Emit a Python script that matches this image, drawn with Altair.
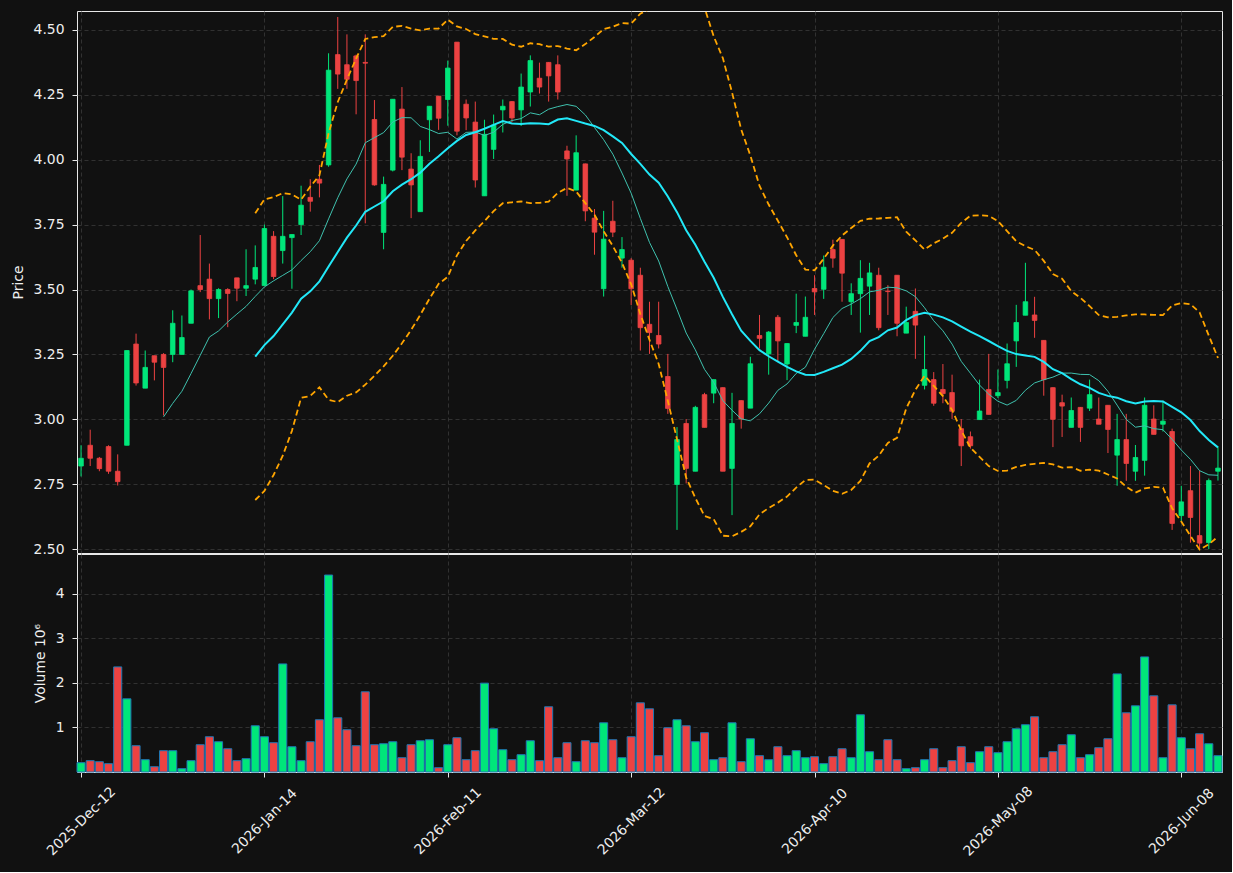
import json
import altair as alt
import pandas as pd
import numpy as np

# ---- data (index = trading-day number) ----
opens = [2.82, 2.90, 2.85, 2.895, 2.80, 2.90, 3.29, 3.12, 3.245, 3.25,
         3.25, 3.25, 3.37, 3.515, 3.54, 3.465, 3.50, 3.545, 3.505, 3.54,
         3.515, 3.705, 3.65, 3.70, 3.75, 3.855, 3.925, 3.98, 4.405, 4.366,
         4.40, 4.375, 4.155, 3.72, 3.96, 4.195, 3.964, 3.80, 4.154, 4.245,
         4.232, 4.453, 4.214, 4.145, 3.861, 4.04, 4.192, 4.224, 4.192, 4.261,
         4.314, 4.375, 4.366, 4.034, 3.883, 3.984, 3.775, 3.503, 3.763, 3.621,
         3.613, 3.555, 3.366, 3.323, 3.165, 2.749, 2.984, 2.80, 3.095, 3.101,
         3.122, 2.811, 3.072, 3.043, 3.323, 3.252, 3.393, 3.213, 3.362, 3.32,
         3.504, 3.501, 3.654, 3.693, 3.453, 3.484, 3.513, 3.555, 3.494, 3.555,
         3.332, 3.416, 3.131, 3.153, 3.115, 3.103, 2.964, 2.933, 2.999, 3.115,
         3.091, 3.15, 3.302, 3.401, 3.402, 3.304, 3.122, 3.064, 2.969, 3.046,
         3.043, 3.001, 3.054, 2.862, 2.922, 2.80, 2.842, 3.001, 2.981, 2.953,
         2.629, 2.725, 2.552, 2.525, 2.80]
highs = [2.90, 2.96, 2.855, 2.90, 2.865, 3.265, 3.33, 3.265, 3.245, 3.255,
         3.42, 3.40, 3.50, 3.71, 3.60, 3.505, 3.505, 3.545, 3.655, 3.67,
         3.75, 3.725, 3.86, 3.712, 3.90, 3.925, 3.98, 4.41, 4.55, 4.483,
         4.405, 4.483, 4.23, 3.935, 4.233, 4.28, 4.025, 4.075, 4.206, 4.245,
         4.382, 4.453, 4.232, 4.224, 4.154, 4.174, 4.232, 4.226, 4.332, 4.402,
         4.374, 4.376, 4.402, 4.054, 4.094, 3.985, 3.81, 3.803, 3.842, 3.702,
         3.621, 3.584, 3.453, 3.453, 3.252, 2.97, 3.001, 3.052, 3.102, 3.153,
         3.123, 3.102, 3.073, 3.241, 3.402, 3.34, 3.402, 3.292, 3.484, 3.473,
         3.555, 3.631, 3.692, 3.694, 3.524, 3.613, 3.603, 3.584, 3.517, 3.556,
         3.434, 3.504, 3.322, 3.182, 3.213, 3.172, 3.001, 2.953, 3.153, 3.252,
         3.192, 3.292, 3.441, 3.603, 3.472, 3.305, 3.123, 3.095, 3.084, 3.047,
         3.153, 3.084, 3.055, 3.021, 3.021, 2.901, 3.084, 3.054, 3.072, 2.964,
         2.744, 2.82, 2.803, 2.772, 2.895]
lows = [2.78, 2.82, 2.80, 2.79, 2.745, 2.90, 3.13, 3.12, 3.15, 3.015,
        3.22, 3.25, 3.37, 3.49, 3.385, 3.39, 3.355, 3.455, 3.475, 3.52,
        3.515, 3.54, 3.60, 3.503, 3.71, 3.80, 3.855, 3.973, 4.273, 4.273,
        4.175, 3.755, 3.90, 3.655, 3.955, 3.96, 3.775, 3.80, 4.03, 4.115,
        4.131, 4.094, 4.114, 3.893, 3.861, 4.003, 4.105, 4.145, 4.13, 4.205,
        4.255, 4.224, 4.232, 3.861, 3.883, 3.763, 3.634, 3.473, 3.702, 3.584,
        3.44, 3.265, 3.252, 3.273, 3.021, 2.574, 2.753, 2.80, 2.969, 3.062,
        2.80, 2.631, 2.964, 3.043, 3.273, 3.172, 3.223, 3.151, 3.332, 3.32,
        3.402, 3.464, 3.584, 3.453, 3.402, 3.334, 3.402, 3.343, 3.402, 3.32,
        3.332, 3.233, 3.115, 3.052, 3.062, 3.001, 2.82, 2.887, 2.999, 3.019,
        3.082, 3.119, 3.202, 3.401, 3.314, 3.091, 2.893, 2.932, 2.969, 2.913,
        3.032, 2.981, 2.87, 2.744, 2.763, 2.763, 2.783, 2.942, 2.953, 2.574,
        2.606, 2.525, 2.50, 2.50, 2.764]
closes = [2.85, 2.85, 2.81, 2.80, 2.76, 3.265, 3.14, 3.20, 3.22, 3.20,
          3.37, 3.315, 3.495, 3.50, 3.465, 3.50, 3.485, 3.505, 3.515, 3.585,
          3.735, 3.55, 3.705, 3.712, 3.825, 3.84, 3.91, 4.345, 4.33, 4.31,
          4.305, 4.372, 3.903, 3.905, 4.233, 4.01, 3.903, 4.013, 4.206, 4.16,
          4.353, 4.11, 4.161, 3.922, 4.098, 4.134, 4.206, 4.161, 4.28, 4.382,
          4.28, 4.323, 4.261, 4.003, 4.027, 3.803, 3.721, 3.694, 3.721, 3.654,
          3.503, 3.353, 3.334, 3.29, 3.042, 2.922, 2.811, 3.046, 2.969, 3.153,
          2.80, 2.984, 3.001, 3.214, 3.312, 3.336, 3.302, 3.292, 3.373, 3.393,
          3.491, 3.586, 3.621, 3.563, 3.484, 3.543, 3.564, 3.353, 3.492, 3.37,
          3.373, 3.363, 3.192, 3.062, 3.099, 3.031, 2.898, 2.898, 3.032, 3.019,
          3.103, 3.214, 3.373, 3.453, 3.381, 3.153, 3.00, 3.051, 3.034, 2.969,
          3.095, 2.981, 2.961, 2.922, 2.83, 2.853, 3.054, 2.942, 2.993, 2.599,
          2.682, 2.622, 2.523, 2.764, 2.812]
volumes_m = [0.209, 0.254, 0.231, 0.187, 2.358, 1.642, 0.590, 0.276, 0.119, 0.478,
             0.478, 0.075, 0.254, 0.612, 0.791, 0.679, 0.522, 0.254, 0.299, 1.037,
             0.791, 0.657, 2.425, 0.567, 0.254, 0.679, 1.172, 4.418, 1.216, 0.948,
             0.590, 1.799, 0.612, 0.634, 0.679, 0.321, 0.612, 0.701, 0.724, 0.097,
             0.612, 0.769, 0.276, 0.478, 1.993, 0.970, 0.500, 0.276, 0.388, 0.701,
             0.254, 1.463, 0.321, 0.657, 0.231, 0.701, 0.657, 1.104, 0.724, 0.321,
             0.791, 1.552, 1.418, 0.366, 0.993, 1.172, 1.037, 0.679, 0.881, 0.276,
             0.321, 1.104, 0.231, 0.746, 0.366, 0.276, 0.567, 0.366, 0.478, 0.321,
             0.343, 0.187, 0.343, 0.522, 0.321, 1.284, 0.455, 0.276, 0.724, 0.276,
             0.075, 0.097, 0.276, 0.522, 0.097, 0.254, 0.567, 0.209, 0.455, 0.567,
             0.433, 0.679, 0.970, 1.060, 1.239, 0.321, 0.455, 0.612, 0.836, 0.321,
             0.388, 0.545, 0.746, 2.201, 1.328, 1.485, 2.582, 1.709, 0.321, 1.507,
             0.769, 0.522, 0.858, 0.634, 0.366]
tick_labels = ["2025-Dec-12", "2026-Jan-14", "2026-Feb-11", "2026-Mar-12",
               "2026-Apr-10", "2026-May-08", "2026-Jun-08"]
tick_step = 20
price_ticks = [2.50, 2.75, 3.00, 3.25, 3.50, 3.75, 4.00, 4.25, 4.50]
volume_ticks = [1, 2, 3, 4]

# ---- table ----
n = len(closes)
df = pd.DataFrame({"i": np.arange(n), "open": opens, "high": highs,
                   "low": lows, "close": closes, "vol": volumes_m})
df["dir"] = np.where(df["close"] >= df["open"], "up", "down")
df["blo"] = df[["open", "close"]].min(axis=1)
df["bhi"] = df[["open", "close"]].max(axis=1)
df["bx1"] = df["i"] - 0.25
df["bx2"] = df["i"] + 0.25
df["vx1"] = df["i"] - 0.44
df["vx2"] = df["i"] + 0.44
df["zero"] = 0.0

c = df["close"]
ind = pd.DataFrame({"i": df["i"],
                    "ma10": c.rolling(10).mean(),
                    "ma20": c.rolling(20).mean()})
sd = c.rolling(20).std(ddof=0)
ind["bbu"] = ind["ma20"] + 2 * sd
ind["bbl"] = ind["ma20"] - 2 * sd

W, H1, H2 = 1145, 542, 218
FONT = "DejaVu Sans"
TXT = "#eeeeee"
xdom = [-0.44, n - 1 + 0.44]
xscale = alt.Scale(domain=xdom, nice=False, zero=False)
ticks = [k * tick_step for k in range(len(tick_labels))]
label_expr = json.dumps(tick_labels) + f"[round(datum.value/{tick_step})]"

candle_color = alt.Color("dir:N", scale=alt.Scale(domain=["up", "down"],
                         range=["#00e67a", "#ec4242"]), legend=None)
vol_color = alt.Color("dir:N", scale=alt.Scale(domain=["up", "down"],
                      range=["#00ff88", "#ff4747"]), legend=None)
pscale = alt.Scale(domain=[2.485, 4.573], nice=False, zero=False)

px_axis = alt.Axis(values=ticks, labels=False, ticks=False, domain=False,
                   grid=True, title=None, minExtent=0, maxExtent=0)
py_axis = alt.Axis(values=price_ticks, format=".2f", title="Price", grid=True)

base = alt.Chart(df)
wicks = base.mark_rule(strokeWidth=1).encode(
    x=alt.X("i:Q", scale=xscale, axis=px_axis),
    y=alt.Y("low:Q", scale=pscale, axis=py_axis),
    y2="high:Q",
    color=candle_color,
)
bodies = base.mark_rect(strokeWidth=0.8).encode(
    x=alt.X("bx1:Q", scale=xscale, axis=px_axis),
    x2="bx2:Q",
    y=alt.Y("blo:Q", scale=pscale, axis=py_axis),
    y2="bhi:Q",
    color=candle_color,
    stroke=candle_color,
)

def line(col, color, width, dash=None):
    d = ind[["i", col]].dropna().rename(columns={col: "v"})
    kw = dict(color=color, strokeWidth=width, clip=True)
    if dash:
        kw["strokeDash"] = dash
    return alt.Chart(d).mark_line(**kw).encode(
        x=alt.X("i:Q", scale=xscale, axis=px_axis),
        y=alt.Y("v:Q", scale=pscale, axis=py_axis),
    )

price = alt.layer(
    wicks, bodies,
    line("ma10", "#3fc1ae", 1),
    line("ma20", "#22e8f8", 2),
    line("bbu", "#ffa500", 1.8, [6, 3.5]),
    line("bbl", "#ffa500", 1.8, [6, 3.5]),
).properties(width=W, height=H1)

volume = base.mark_rect(stroke="#1f77b4", strokeWidth=1).encode(
    x=alt.X("vx1:Q", scale=xscale,
            axis=alt.Axis(values=ticks, labelExpr=label_expr, labelAngle=-45,
                          labelAlign="center", labelBaseline="middle",
                          labelPadding=44, labelOverlap=False, labelFlush=False,
                          grid=True, title=None)),
    x2="vx2:Q",
    y=alt.Y("zero:Q", scale=alt.Scale(domain=[0, 4.89], nice=False),
            axis=alt.Axis(values=volume_ticks, format="d",
                          title="Volume  10⁶", grid=True)),
    y2="vol:Q",
    color=vol_color,
).properties(width=W, height=H2)

chart = alt.vconcat(price, volume, spacing=1, bounds="flush").properties(
    background="#111111",
    padding={"left": 10, "top": 10, "right": 9, "bottom": 13},
).configure_view(
    fill="#111111", stroke="#e8e8e8", strokeWidth=1
).configure_axis(
    labelFont=FONT, labelFontSize=13.9, labelColor=TXT,
    titleFont=FONT, titleFontSize=13.9, titleColor=TXT, titleFontWeight="normal",
    titlePadding=8, labelPadding=8,
    gridColor="#3a3a3a", gridDash=[4, 3], gridWidth=0.8,
    tickColor="#e8e8e8", tickSize=5, domain=False,
)

chart.save("out.html", embed_options={"renderer": "svg", "actions": False})
